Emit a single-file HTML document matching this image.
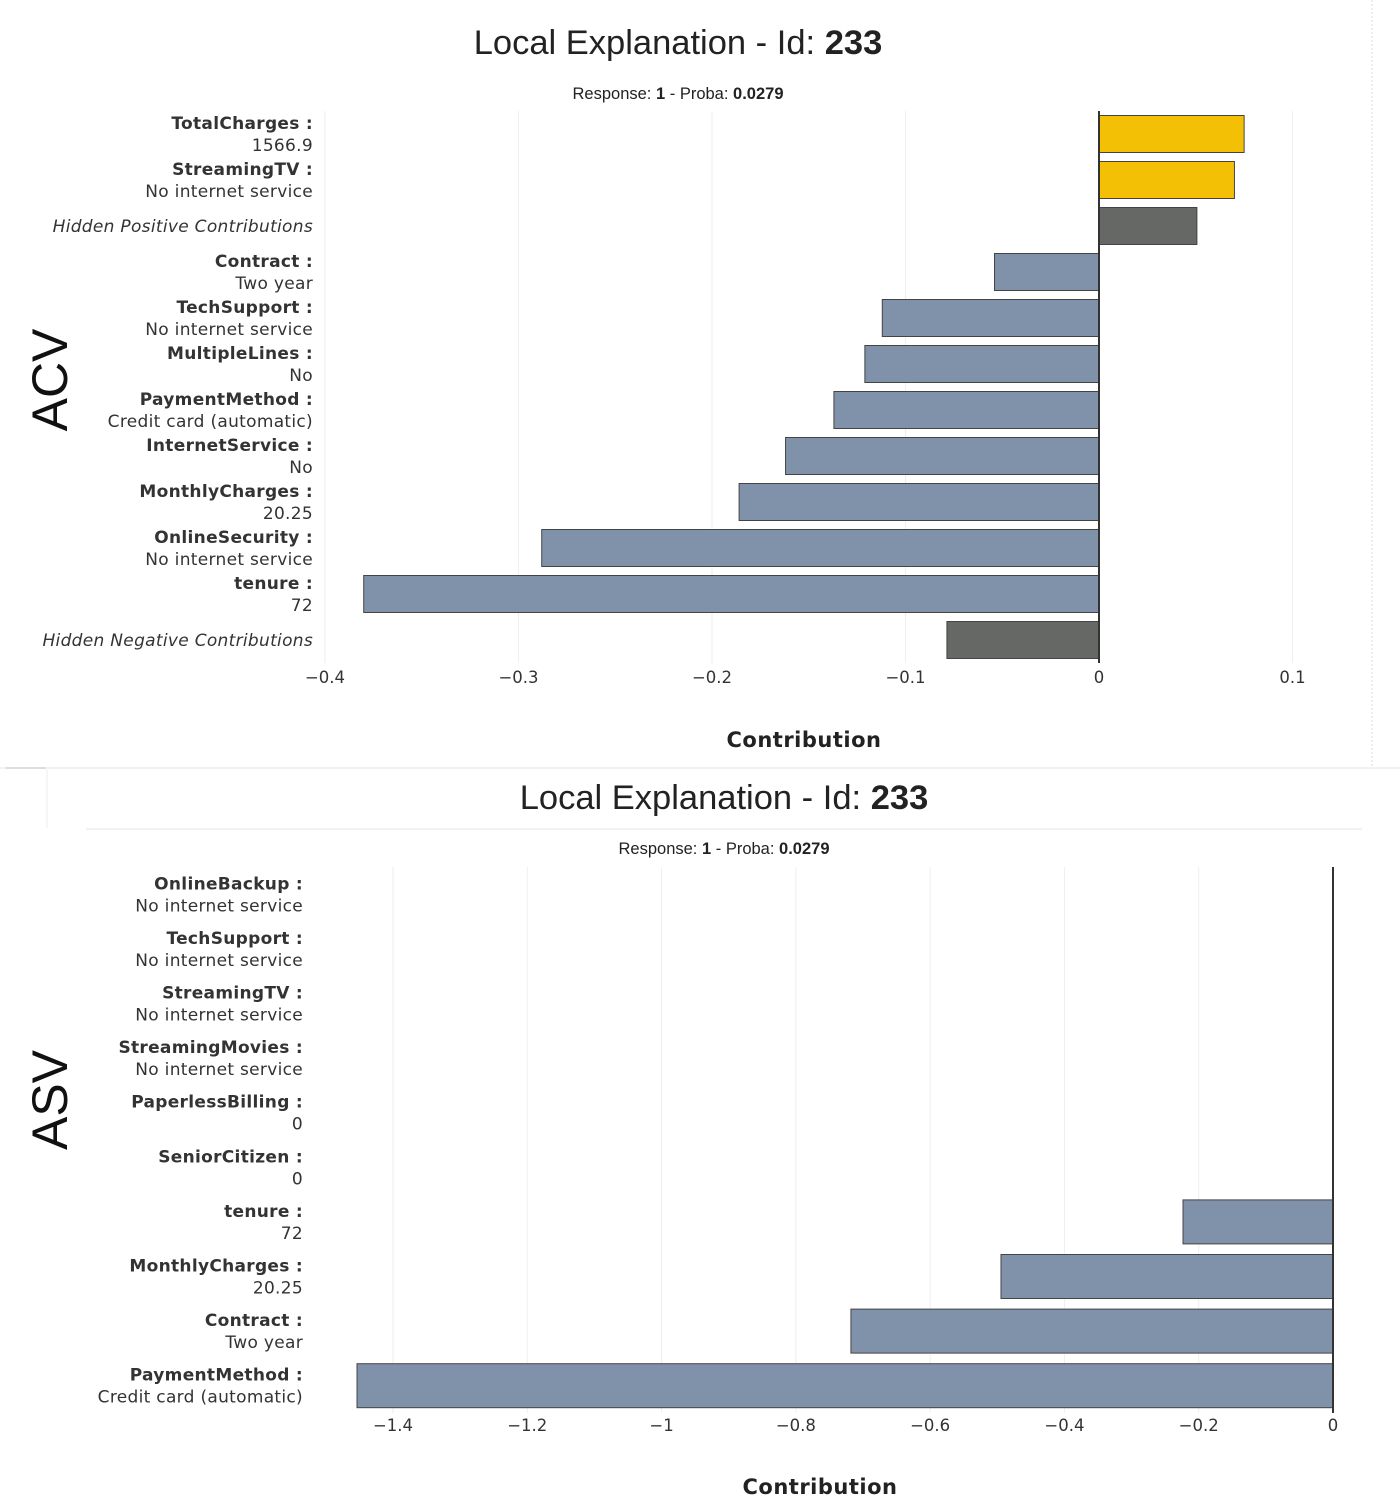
<!DOCTYPE html>
<html><head><meta charset="utf-8">
<style>
body{margin:0;background:#fff;width:1400px;height:1512px;overflow:hidden}
svg{display:block}
</style></head>
<body>
<svg id="s" width="1400" height="1512" xmlns="http://www.w3.org/2000/svg" font-family="'DejaVu Sans', sans-serif">
<line x1="1372" y1="0" x2="1372" y2="768" stroke="#ddd" stroke-dasharray="2,2"/>
<line x1="0" y1="768" x2="1400" y2="768" stroke="#e6e6e6"/>
<line x1="6" y1="768" x2="46" y2="768" stroke="#bbb"/>
<line x1="47" y1="769" x2="47" y2="828" stroke="#eee"/>
<line x1="86" y1="829" x2="1362" y2="829" stroke="#e6e6e6"/>
<text x="678" y="54" text-anchor="middle" font-family="'Liberation Sans',sans-serif" font-size="34.5" fill="#222">Local Explanation - Id: <tspan font-weight="bold">233</tspan></text>
<text x="678" y="99" text-anchor="middle" font-family="'Liberation Sans',sans-serif" font-size="16.5" fill="#222">Response: <tspan font-weight="bold">1</tspan> - Proba: <tspan font-weight="bold">0.0279</tspan></text>
<text transform="translate(67,380) rotate(-90)" text-anchor="middle" font-family="'Liberation Sans',sans-serif" font-size="50" fill="#111">ACV</text>
<text x="724" y="809" text-anchor="middle" font-family="'Liberation Sans',sans-serif" font-size="34.5" fill="#222">Local Explanation - Id: <tspan font-weight="bold">233</tspan></text>
<text x="724" y="854" text-anchor="middle" font-family="'Liberation Sans',sans-serif" font-size="16.5" fill="#222">Response: <tspan font-weight="bold">1</tspan> - Proba: <tspan font-weight="bold">0.0279</tspan></text>
<text transform="translate(67,1100) rotate(-90)" text-anchor="middle" font-family="'Liberation Sans',sans-serif" font-size="50" fill="#111">ASV</text>
<text x="804" y="747" text-anchor="middle" font-size="21" font-weight="bold" letter-spacing="0.5" fill="#222">Contribution</text>
<text x="820" y="1494" text-anchor="middle" font-size="21" font-weight="bold" letter-spacing="0.5" fill="#222">Contribution</text>
<g id="top"></g><g id="bot"></g>
</svg>
<script>
const acvNames=["TotalCharges :","StreamingTV :","Hidden Positive Contributions","Contract :","TechSupport :","MultipleLines :","PaymentMethod :","InternetService :","MonthlyCharges :","OnlineSecurity :","tenure :","Hidden Negative Contributions"];
const acvVals=["1566.9","No internet service","","Two year","No internet service","No","Credit card (automatic)","No","20.25","No internet service","72",""];
const acvContrib=[0.075,0.070,0.0506,-0.054,-0.112,-0.121,-0.137,-0.162,-0.186,-0.288,-0.380,-0.0786];
const acvTicks=[-0.4,-0.3,-0.2,-0.1,0,0.1];
const acvTickLabels=["−0.4","−0.3","−0.2","−0.1","0","0.1"];

const asvNames=["OnlineBackup :","TechSupport :","StreamingTV :","StreamingMovies :","PaperlessBilling :","SeniorCitizen :","tenure :","MonthlyCharges :","Contract :","PaymentMethod :"];
const asvVals=["No internet service","No internet service","No internet service","No internet service","0","0","72","20.25","Two year","Credit card (automatic)"];
const asvContrib=[0,0,0,0,0,0,-0.2234,-0.4945,-0.718,-1.4536];
const asvTicks=[-1.4,-1.2,-1,-0.8,-0.6,-0.4,-0.2,0];
const asvTickLabels=["−1.4","−1.2","−1","−0.8","−0.6","−0.4","−0.2","0"];

const NS="http://www.w3.org/2000/svg";
function mk(parent,tag,attrs,txt){const e=document.createElementNS(NS,tag);for(const k in attrs)e.setAttribute(k,attrs[k]);if(txt!==undefined)e.textContent=txt;parent.appendChild(e);return e;}

function draw(g,cfg,names,vals,contrib,ticks,tickLabels,prefix){
  const x=v=>cfg.x0+(v-cfg.d0)*(cfg.x1-cfg.x0)/(cfg.d1-cfg.d0);
  const step=(cfg.yb-cfg.yt)/names.length;
  const y=i=>cfg.yt+step*(i+0.5);
  ticks.forEach((t,i)=>{
    if(t!==0){const gl=mk(g,'line',{x1:x(t),x2:x(t),y1:cfg.yt,y2:cfg.yb,stroke:'#eee'});
    
    }
    const tl=mk(g,'text',{x:x(t),y:cfg.tickY,'text-anchor':'middle','font-size':16.5,fill:'#333'},tickLabels[i]);
    
    
  });
  names.forEach((n,i)=>{
    const v=contrib[i];const hidden=n.startsWith('Hidden');
    const fill=hidden?'#666865':(v>0?'#f3c005':'#8092aa');
    const bx=Math.min(x(0),x(v)),bw=Math.abs(x(v)-x(0));
    const r=mk(g,'rect',{x:bx,y:y(i)-cfg.bh/2,width:Math.max(bw,0.5),height:cfg.bh,fill:fill,stroke:'#444','stroke-width':1});
    
    
    if(hidden){
      const t=mk(g,'text',{x:cfg.lx,y:y(i)+6,'text-anchor':'end','font-size':17,'letter-spacing':0.3,'font-style':'italic',fill:'#333'},n);
      
      
    }else{
      const t=mk(g,'text',{x:cfg.lx,y:y(i)-5,'text-anchor':'end','font-size':17,'letter-spacing':0.3,'font-weight':'bold',fill:'#333'},n);
      
      
      const t2=mk(g,'text',{x:cfg.lx,y:y(i)+17,'text-anchor':'end','font-size':17,'letter-spacing':0.3,fill:'#333'},vals[i]);
      
      
    }
  });
  const z=mk(g,'line',{x1:x(0),x2:x(0),y1:cfg.yt,y2:cfg.yb,stroke:'#333','stroke-width':2});
  
  
}
draw(document.getElementById('top'),{x0:325,x1:1099,d0:-0.4,d1:0,yt:111,yb:663,bh:37,lx:313,tickY:683},acvNames,acvVals,acvContrib,acvTicks,acvTickLabels,'acv');
draw(document.getElementById('bot'),{x0:393,x1:1333,d0:-1.4,d1:0,yt:867,yb:1413,bh:44,lx:303,tickY:1431},asvNames,asvVals,asvContrib,asvTicks,asvTickLabels,'asv');
</script>
</body></html>
